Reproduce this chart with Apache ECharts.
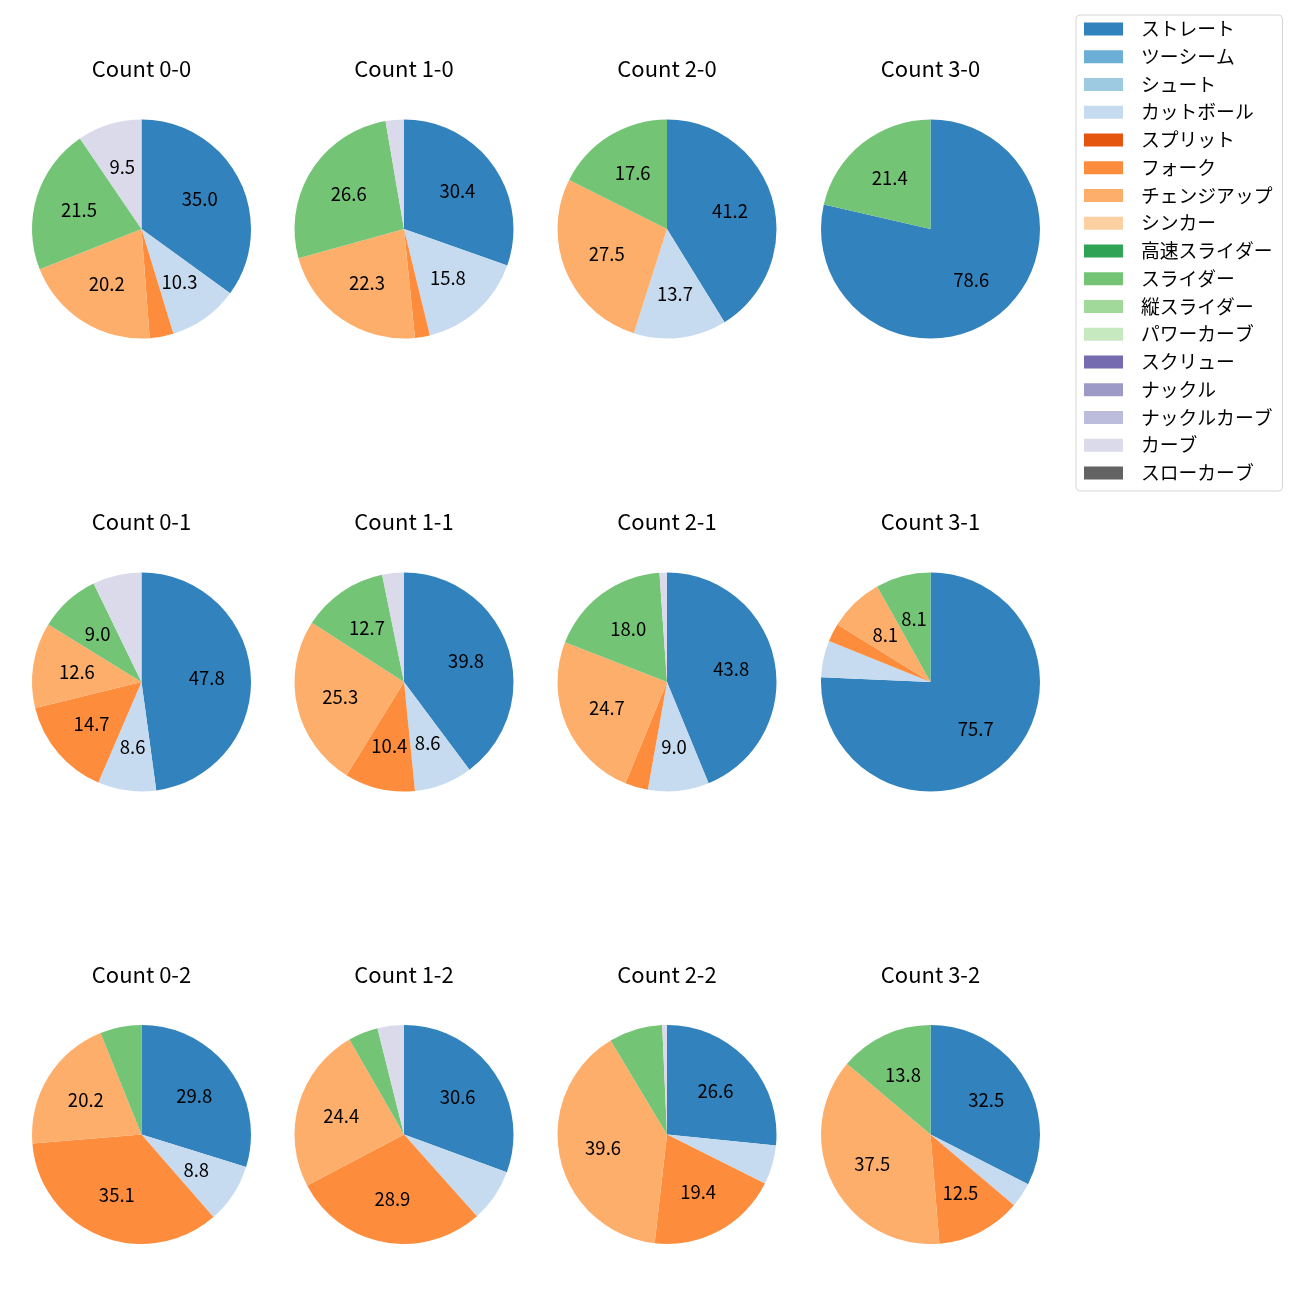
<!DOCTYPE html>
<html>
<head>
<meta charset="utf-8">
<script src="https://cdn.jsdelivr.net/npm/echarts@6/dist/echarts.min.js"></script>
<style>
html,body{margin:0;padding:0;background:#fff;}
#chart{width:1300px;height:1300px;}
</style>
</head>
<body>
<div id="chart"></div>
<script>
// Pitch types (legend order)
const categories = ['ストレート','ツーシーム','シュート','カットボール','スプリット','フォーク','チェンジアップ','シンカー','高速スライダー','スライダー','縦スライダー','パワーカーブ','スクリュー','ナックル','ナックルカーブ','カーブ','スローカーブ'];
const palette = ['#3182bd','#6baed6','#9ecae1','#c6dbef','#e6550d','#fd8d3c','#fdae6b','#fdd0a2','#31a354','#74c476','#a1d99b','#c7e9c0','#756bb1','#9e9ac8','#bcbddc','#dadaeb','#636363'];

// Counts (panel order: row by row)
const counts = ['Count 0-0','Count 1-0','Count 2-0','Count 3-0','Count 0-1','Count 1-1','Count 2-1','Count 3-1','Count 0-2','Count 1-2','Count 2-2','Count 3-2'];

// Percentages per pitch type, one value per count above
const straight   = [35.0, 30.4, 41.2, 78.6, 47.8, 39.8, 43.8, 75.7, 29.8, 30.6, 26.6, 32.5];
const cutter     = [10.3, 15.8, 13.7, 0,    8.6,  8.6,  9.0,  5.4,  8.8,  7.8,  5.8,  3.7];
const fork       = [3.5,  2.2,  0,    0,    14.7, 10.4, 3.4,  2.7,  35.1, 28.9, 19.4, 12.5];
const changeup   = [20.2, 22.3, 27.5, 0,    12.6, 25.3, 24.7, 8.1,  20.2, 24.4, 39.6, 37.5];
const slider     = [21.5, 26.6, 17.6, 21.4, 9.0,  12.7, 18.0, 8.1,  6.1,  4.4,  7.9,  13.8];
const curve      = [9.5,  2.7,  0,    0,    7.2,  3.2,  1.1,  0,    0,    3.9,  0.7,  0];

const seriesByCategory = {
  'ストレート': straight,
  'カットボール': cutter,
  'フォーク': fork,
  'チェンジアップ': changeup,
  'スライダー': slider,
  'カーブ': curve
};

const FONT = 'Noto Sans CJK JP';
const colX = [141.5, 404, 667, 930.5];
const rowY = [229, 682, 1134.5];
const R = 109.5;
const LABEL_MIN = 8;

function panelData(i, transparent) {
  return categories.map((c, k) => ({
    name: c,
    value: seriesByCategory[c] ? seriesByCategory[c][i] : 0,
    itemStyle: { color: transparent ? 'rgba(0,0,0,0)' : palette[k] }
  }));
}

const series = [];
const titles = [];
counts.forEach((cnt, i) => {
  const cx = colX[i % 4], cy = rowY[Math.floor(i / 4)];
  series.push({
    type: 'pie',
    name: cnt,
    center: [cx, cy],
    radius: [0, R],
    startAngle: 90,
    clockwise: true,
    avoidLabelOverlap: false,
    silent: true,
    label: { show: false },
    labelLine: { show: false },
    itemStyle: { borderWidth: 0 },
    emphasis: { disabled: true },
    data: panelData(i, false)
  });
  titles.push({
    text: cnt,
    left: cx,
    top: cy - 171,
    textAlign: 'center',
    padding: 0,
    textStyle: { fontFamily: FONT, fontSize: 22, fontWeight: 'normal', color: '#000' }
  });
});
// label layer: labels placed inside, near 0.57 of the radius
counts.forEach((cnt, i) => {
  const cx = colX[i % 4], cy = rowY[Math.floor(i / 4)];
  series.push({
    type: 'pie',
    name: cnt + ' labels',
    center: [cx, cy],
    radius: [R * 0.14, R],
    startAngle: 90,
    clockwise: true,
    avoidLabelOverlap: false,
    silent: true,
    labelLine: { show: false },
    emphasis: { disabled: true },
    label: {
      show: true,
      position: 'inside',
      fontFamily: FONT,
      fontSize: 18.5,
      color: '#000',
      formatter: p => (p.value >= LABEL_MIN ? p.value.toFixed(1) : '')
    },
    data: panelData(i, true)
  });
});

const chart = echarts.init(document.getElementById('chart'), null, { renderer: 'canvas' });
chart.setOption({
  animation: false,
  backgroundColor: '#fff',
  title: titles,
  legend: {
    orient: 'vertical',
    left: 1076,
    top: 15,
    padding: [4, 10, 8, 8],
    itemWidth: 39,
    itemHeight: 13,
    itemGap: 7.75,
    icon: 'rect',
    selectedMode: false,
    borderColor: '#d6d6d6',
    borderWidth: 1,
    borderRadius: 4,
    data: categories,
    textStyle: { fontFamily: FONT, fontSize: 18.8, lineHeight: 20, color: '#000', padding: [0, 0, 0, 13] }
  },
  series: series
});
</script>
</body>
</html>
